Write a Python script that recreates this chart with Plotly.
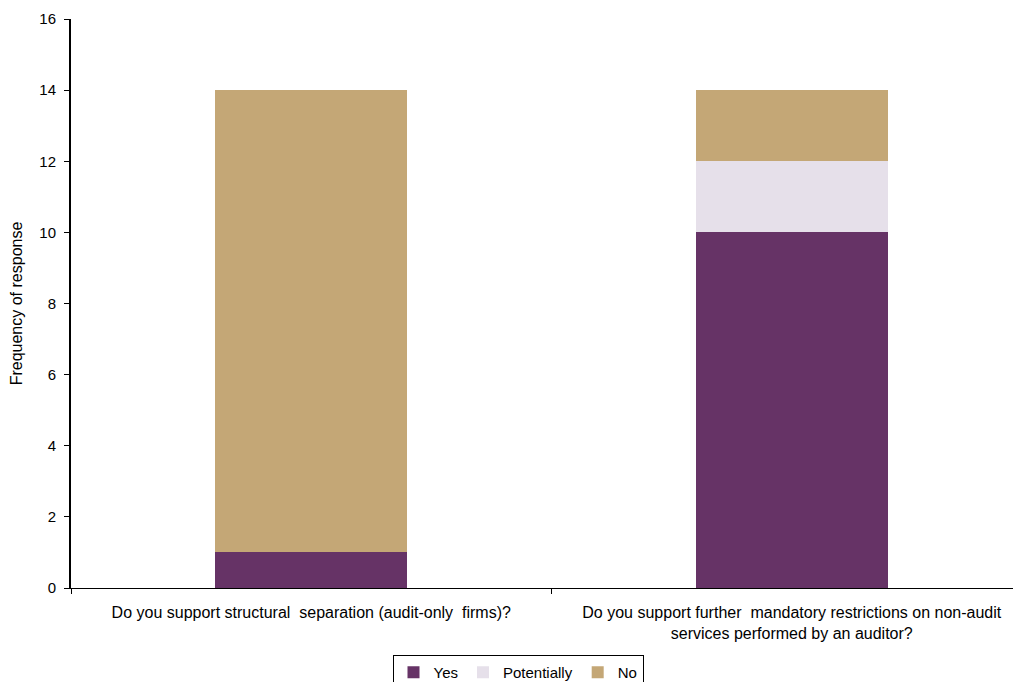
import plotly.graph_objects as go

NB = "\u00a0"
categories = [
    f"Do you support structural{NB} separation (audit-only{NB} firms)?",
    f"Do you support further{NB} mandatory restrictions on non-audit<br>services performed by an auditor?",
]
yes_vals = [1, 10]
potentially_vals = [0, 2]
no_vals = [13, 2]
y_ticks = [0, 2, 4, 6, 8, 10, 12, 14, 16]

colors = {"Yes": "#663366", "Potentially": "#E6E0EA", "No": "#C4A776"}

fig = go.Figure()
for name, vals in [("Yes", yes_vals), ("Potentially", potentially_vals), ("No", no_vals)]:
    fig.add_trace(go.Bar(
        x=categories, y=vals, name=name, width=0.4,
        marker=dict(color=colors[name], line=dict(width=0)),
    ))

OFF = 8  # page body margin
W, H = 1021 - OFF, 682 - OFF
l, r, t = 71 - OFF, 0, 19 - OFF
plot_bottom = 588 - OFF
b = H - plot_bottom
plot_w = W - l - r
plot_h = plot_bottom - t
cat_px = 480.5
x_right = -0.5 + plot_w / cat_px

fig.update_layout(
    width=W, height=H,
    barmode="stack",
    margin=dict(l=l, r=r, t=t, b=b, autoexpand=False),
    plot_bgcolor="white", paper_bgcolor="white",
    font=dict(family="Liberation Sans, Arial, sans-serif", size=15, color="black"),
    showlegend=True,
    legend=dict(
        orientation="h", x=(518 - 71) / plot_w, xanchor="center",
        y=(588 - 655) / plot_h, yanchor="top",
        bordercolor="black", borderwidth=1, bgcolor="white",
        font=dict(size=15), traceorder="normal",
        itemwidth=30, tracegroupgap=0,
    ),
    xaxis=dict(
        range=[-0.5, x_right], showline=True, linecolor="black", linewidth=1,
        ticks="outside", tickson="boundaries", ticklen=5, tickcolor="black",
        showgrid=False, tickfont=dict(size=16), automargin=False,
        ticklabelstandoff=10,
    ),
    yaxis=dict(
        range=[0, 16], tickvals=y_ticks, showline=True, linecolor="black", linewidth=2,
        ticks="outside", ticklen=5, tickcolor="black", showgrid=False, zeroline=False,
        title=dict(text="Frequency of response", font=dict(size=16), standoff=13),
        tickfont=dict(size=15), automargin=False, ticklabelstandoff=5,
    ),
)
fig.write_html("out.html")
